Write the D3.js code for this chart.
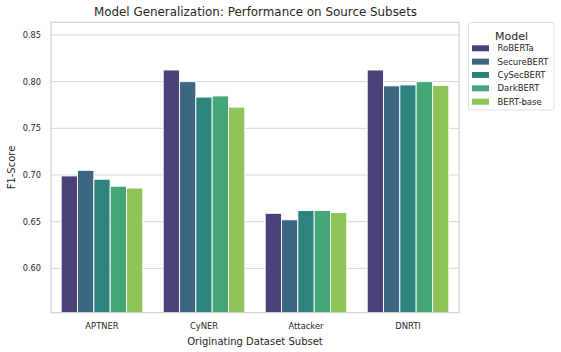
<!DOCTYPE html>
<html><head><meta charset="utf-8">
<script src="https://cdn.jsdelivr.net/npm/d3@7"></script>
<style>body{margin:0;background:#fff;}svg{display:block;font-family:"DejaVu Sans",sans-serif;}</style>
</head><body><svg id="c" width="561" height="352"></svg>
<script>
const categories = ["APTNER","CyNER","Attacker","DNRTI"];
const models = ["RoBERTa","SecureBERT","CySecBERT","DarkBERT","BERT-base"];
const RoBERTa    = [0.699, 0.8125, 0.659, 0.8125];
const SecureBERT = [0.705, 0.800, 0.652, 0.7955];
const CySecBERT  = [0.6955, 0.7835, 0.662, 0.7965];
const DarkBERT   = [0.688, 0.7847, 0.662, 0.800];
const BERTbase   = [0.686, 0.7727, 0.6597, 0.796];
const series = [RoBERTa, SecureBERT, CySecBERT, DarkBERT, BERTbase];
const yTicks = [0.60, 0.65, 0.70, 0.75, 0.80, 0.85];
const colors = ["#4a4279","#3d6682","#2f837f","#45a778","#8fc556"];

const svg = d3.select("#c");
const L=51, R=459, T=22.3, B=312.7;
const x = d3.scaleBand().domain(categories).range([L,R]).padding(0);
const y = d3.scaleLinear().domain([0.5525,0.8636]).range([B,T]);
const inner = d3.scaleBand().domain(models).range([0, x.bandwidth()*0.8]);

// grid
svg.append("g").selectAll("line").data(yTicks).join("line")
  .attr("x1",L).attr("x2",R).attr("y1",d=>y(d)).attr("y2",d=>y(d))
  .attr("stroke","#d6d6d6").attr("stroke-width",1);

// bars
const rows = [];
categories.forEach((c,i)=>models.forEach((m,j)=>rows.push({c,m,j,v:series[j][i]})));
svg.append("g").selectAll("rect").data(rows).join("rect")
  .attr("x",d=>x(d.c)+x.bandwidth()*0.1+inner(d.m))
  .attr("width",inner.bandwidth())
  .attr("y",d=>y(d.v)).attr("height",d=>B-y(d.v))
  .attr("fill",d=>colors[d.j]).attr("stroke","#fff").attr("stroke-width",0.9);

// frame
svg.append("rect").attr("x",L).attr("y",T).attr("width",R-L).attr("height",B-T)
  .attr("fill","none").attr("stroke","#d0d0d0").attr("stroke-width",1.2);

// y axis
const ya = svg.append("g").attr("transform",`translate(${L},0)`)
  .call(d3.axisLeft(y).tickValues(yTicks).tickFormat(d3.format(".2f")).tickSize(0).tickPadding(10));
ya.select(".domain").remove();
ya.selectAll("text").attr("font-size",8.2).attr("fill","#262626").attr("font-family","DejaVu Sans");

// x axis
const xa = svg.append("g").attr("transform",`translate(0,${B})`)
  .call(d3.axisBottom(x).tickSize(0).tickPadding(10));
xa.select(".domain").remove();
xa.selectAll("text").attr("font-size",8.4).attr("fill","#262626").attr("font-family","DejaVu Sans");

// labels
svg.append("text").attr("x",(L+R)/2+0.5).attr("y",16).attr("text-anchor","middle")
  .attr("font-size",11.9).attr("fill","#262626").text("Model Generalization: Performance on Source Subsets");
svg.append("text").attr("x",(L+R)/2).attr("y",344.5).attr("text-anchor","middle")
  .attr("font-size",10).attr("fill","#262626").text("Originating Dataset Subset");
svg.append("text").attr("transform",`translate(15,${(T+B)/2}) rotate(-90)`).attr("text-anchor","middle")
  .attr("font-size",10).attr("fill","#262626").text("F1-Score");

// legend
const lg = svg.append("g");
lg.append("rect").attr("x",468.5).attr("y",22.5).attr("width",85.5).attr("height",87.5).attr("rx",2)
  .attr("fill","#fff").attr("stroke","#d8d8d8").attr("stroke-width",0.8);
lg.append("text").attr("x",511.5).attr("y",39.5).attr("text-anchor","middle")
  .attr("font-size",11).attr("fill","#262626").text("Model");
const items = lg.selectAll("g.it").data(models).join("g").attr("class","it")
  .attr("transform",(d,i)=>`translate(0,${48.3+i*13.35})`);
items.append("rect").attr("x",472).attr("y",-3).attr("width",17).attr("height",6)
  .attr("fill",(d,i)=>colors[i]);
items.append("text").attr("x",497.5).attr("y",3).attr("font-size",8.5).attr("fill","#262626").text(d=>d);
</script></body></html>
